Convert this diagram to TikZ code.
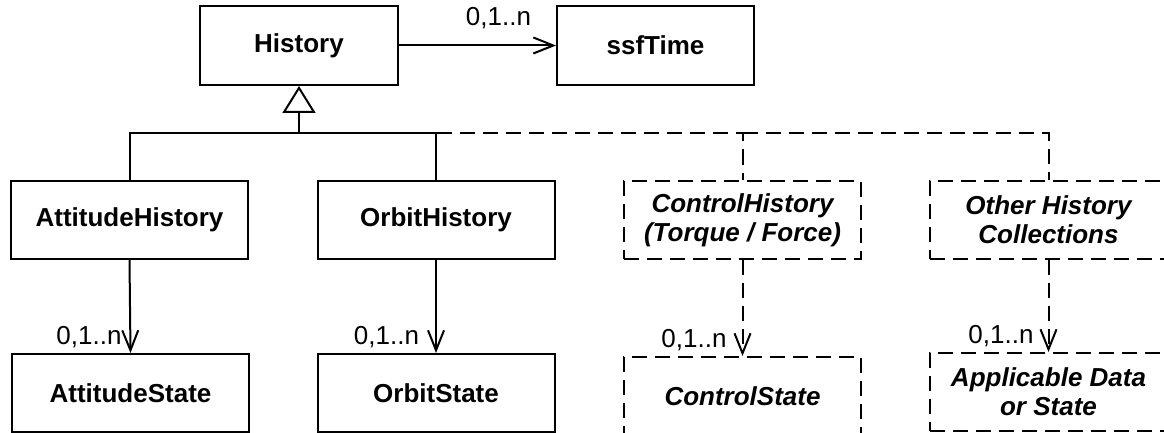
\documentclass[tikz,border=0pt]{standalone}
\usepackage{fontspec}
\setmainfont{Liberation Sans}
\usetikzlibrary{arrows.meta}
\begin{document}
\begin{tikzpicture}[x=1pt,y=-1pt,
  every node/.style={font=\fontsize{26}{29}\selectfont},
  cls/.style={draw, line width=2pt, minimum width=237pt, minimum height=78pt, inner sep=0pt, align=center, font=\fontsize{26}{29}\selectfont\bfseries},
  abs/.style={cls, dash pattern=on 15pt off 8pt, font=\fontsize{26}{29}\selectfont\bfseries\itshape},
  assoc/.style={line width=2pt, -{Straight Barb[length=20pt,width=16pt]}},
  dassoc/.style={assoc, dash pattern=on 15pt off 8pt},
  gen/.style={line width=2pt},
  dgen/.style={line width=2pt, dash pattern=on 15pt off 8pt},
  mult/.style={font=\fontsize{26}{29}\selectfont, inner sep=0pt}
]
\useasboundingbox (0,0) rectangle (1164,433);
\clip (0,0) rectangle (1164,433);
% top row
\node[cls, minimum width=198pt, minimum height=79pt] (hist) at (299,45.5) {History};
\node[cls, minimum width=197pt, minimum height=79pt] (time) at (655.5,45.5) {ssfTime};
% middle row
\node[cls] (ah) at (129.5,220) {AttitudeHistory};
\node[cls] (oh) at (436,220) {OrbitHistory};
\node[abs] (ch) at (742.5,220) {ControlHistory\\(Torque / Force)};
\node[abs] (oth) at (1048.5,220) {Other History\\Collections};
% bottom row
\node[cls] (as) at (130.5,393) {AttitudeState};
\node[cls] (os) at (436,393) {OrbitState};
\node[abs] (cs) at (742.5,396) {ControlState};
\node[abs] (ad) at (1048.5,392) {Applicable Data\\or State};
% association History -> ssfTime
\draw[assoc] (hist) -- (time)
  node[mult, pos=1, anchor=base east, xshift=-24pt, yshift=20pt] {0,1..n};
% generalization
\coordinate (junc) at (299,133);
\draw[dgen] (junc) -| (ch.north);
\draw[dgen] (ch.north |- junc) -| (oth.north);
\draw[gen] (ah.north) |- (oh.north |- junc) -- (oh.north);
\draw[gen, -{Triangle[open, length=27pt, width=33pt]}] (junc) -- (hist.south);
% associations to states
\draw[assoc] (ah.south) -- (as.north)
  node[mult, pos=1, anchor=base east, xshift=-8pt, yshift=9pt] {0,1..n};
\draw[assoc] (oh.south) -- (os.north)
  node[mult, pos=1, anchor=base east, xshift=-16pt, yshift=9pt] {0,1..n};
\draw[dassoc] (ch.south) -- (cs.north)
  node[mult, pos=1, anchor=base east, xshift=-15pt, yshift=9pt] {0,1..n};
\draw[dassoc] (oth.south) -- (ad.north)
  node[mult, pos=1, anchor=base east, xshift=-14pt, yshift=9pt] {0,1..n};
\end{tikzpicture}
\end{document}
